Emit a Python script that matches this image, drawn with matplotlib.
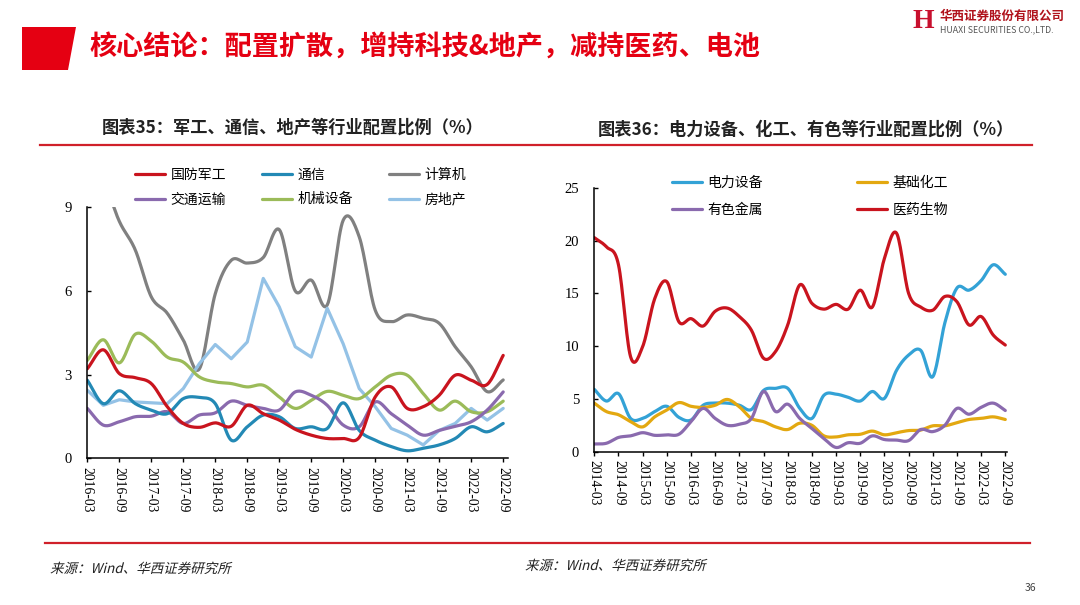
import numpy as np
import matplotlib
matplotlib.use('Agg')
import matplotlib.pyplot as plt
from matplotlib.patches import Polygon, PathPatch
from matplotlib.lines import Line2D
from matplotlib.textpath import TextPath
from matplotlib.font_manager import FontProperties
from matplotlib.transforms import Affine2D

plt.rcParams['font.family'] = ['Noto Sans CJK SC', 'DejaVu Sans']

# ---- data (quarterly) ----
quarters_l = [f'{y}-{m:02d}' for y in range(2016, 2023) for m in (3, 6, 9, 12)][:27]
quarters_r = [f'{y}-{m:02d}' for y in range(2014, 2023) for m in (3, 6, 9, 12)][:35]

military = [3.21, 3.89, 3.04, 2.89, 2.68, 1.85, 1.25, 1.11, 1.27, 1.15, 1.9, 1.6, 1.37, 1.04,
            0.83, 0.71, 0.71, 0.75, 2.2, 2.56, 1.79, 1.85, 2.26, 2.98, 2.8, 2.65, 3.69]
telecom = [2.8, 1.96, 2.42, 1.96, 1.73, 1.6, 2.14, 2.18, 1.96, 0.65, 1.13, 1.55, 1.49, 1.07,
           1.13, 1.07, 1.99, 1.0, 0.65, 0.42, 0.27, 0.36, 0.48, 0.71, 1.13, 0.95, 1.25]
computer = [11.0, 10.0, 8.5, 7.47, 5.79, 5.2, 4.24, 3.2, 5.9, 7.1, 7.0, 7.2, 8.2, 6.0,
            6.39, 5.5, 8.54, 7.94, 5.31, 4.9, 5.14, 5.02, 4.84, 4.0, 3.28, 2.39, 2.81]
transport = [1.79, 1.19, 1.31, 1.49, 1.51, 1.67, 1.25, 1.55, 1.63, 2.05, 1.9, 1.79, 1.73, 2.38,
             2.26, 1.9, 1.19, 1.13, 2.02, 1.6, 1.19, 0.83, 1.0, 1.15, 1.31, 1.73, 2.38]
machinery = [3.51, 4.25, 3.42, 4.45, 4.2, 3.63, 3.45, 2.92, 2.74, 2.68, 2.56, 2.62, 2.2, 1.79,
             2.08, 2.4, 2.26, 2.14, 2.56, 2.98, 2.98, 2.32, 1.73, 2.05, 1.67, 1.67, 2.05]
realestate = [2.44, 1.9, 2.1, 2.02, 1.99, 1.96, 2.5, 3.39, 4.08, 3.57, 4.17, 6.45, 5.43, 4.0,
              3.63, 5.38, 4.1, 2.5, 1.85, 1.07, 0.83, 0.48, 1.0, 1.25, 1.79, 1.37, 1.79]

power = [5.9, 4.8, 5.5, 3.15, 3.15, 3.8, 4.3, 3.25, 3.0, 4.4, 4.6, 4.6, 4.4, 4.0, 5.8, 6.0, 6.0,
         4.1, 3.15, 5.35, 5.45, 5.15, 4.8, 5.7, 5.05, 7.7, 9.15, 9.6, 7.1, 12.2, 15.5, 15.3,
         16.2, 17.7, 16.8]
chemical = [4.6, 3.8, 3.5, 2.85, 2.35, 3.3, 3.95, 4.65, 4.3, 4.2, 4.4, 4.95, 4.25, 3.15, 2.85,
            2.35, 2.1, 2.7, 2.5, 1.5, 1.4, 1.6, 1.65, 1.95, 1.6, 1.8, 2.0, 2.05, 2.45, 2.45,
            2.75, 3.05, 3.15, 3.3, 3.05]
metals = [0.73, 0.8, 1.35, 1.5, 1.8, 1.55, 1.6, 1.65, 2.85, 4.1, 3.15, 2.5, 2.6, 3.15, 5.7,
          3.8, 4.5, 3.15, 2.2, 1.25, 0.4, 0.85, 0.8, 1.5, 1.15, 1.1, 1.05, 2.1, 1.9, 2.5, 4.1,
          3.55, 4.2, 4.6, 3.9]
pharma = [20.27, 19.4, 17.7, 9.0, 9.95, 14.5, 16.1, 12.3, 12.6, 11.9, 13.3, 13.6, 12.8, 11.5,
          8.85, 9.5, 12.0, 15.8, 14.05, 13.5, 13.95, 13.5, 15.3, 13.7, 18.3, 20.7, 15.0, 13.7,
          13.4, 14.7, 14.2, 12.0, 12.8, 11.05, 10.1]

W, H = 1080, 605
RED = '#E50012'
source_text = '来源：Wind、华西证券研究所'


def px_rect(l, t, r, b):
    return [l / W, 1 - b / H, (r - l) / W, (b - t) / H]


def smooth(y, n=16):
    # catmull-rom curve through the points, like Excel's smoothed line
    y = np.asarray(y, float)
    p = np.concatenate([[2 * y[0] - y[1]], y, [2 * y[-1] - y[-2]]])
    xs, ys = [], []
    t = np.linspace(0, 1, n, endpoint=False)
    for i in range(len(y) - 1):
        p0, p1, p2, p3 = p[i:i + 4]
        ys.append(0.5 * (2 * p1 + (-p0 + p2) * t + (2 * p0 - 5 * p1 + 4 * p2 - p3) * t ** 2
                         + (-p0 + 3 * p1 - 3 * p2 + p3) * t ** 3))
        xs.append(i + t)
    xs.append([len(y) - 1])
    ys.append([y[-1]])
    return np.concatenate(xs), np.concatenate(ys)


def style_axis(ax, labels, ymax, yticks):
    ax.set_ylim(0, ymax)
    ax.set_yticks(yticks)
    ax.set_xticks(range(0, len(labels), 2))
    ax.set_xticklabels(labels[::2], rotation=-90, fontsize=9.8, family='Liberation Serif')
    for lab in ax.get_yticklabels():
        lab.set_family('Liberation Serif')
        lab.set_fontsize(10.5)
    ax.tick_params(axis='x', direction='out', length=3, width=1, pad=3)
    ax.tick_params(axis='y', direction='in', length=3, width=1, pad=11)
    for s in ('top', 'right'):
        ax.spines[s].set_visible(False)
    for s in ('left', 'bottom'):
        ax.spines[s].set_linewidth(1.1)
    ax.set_facecolor('none')


def slanted_text(fig, x, y, s, size):
    # italic look for CJK text: skewed text path, x/y = left/baseline in pixels from top
    tp = TextPath((0, 0), s, size=size, prop=FontProperties(family='Noto Sans CJK SC'))
    tr = (Affine2D().skew_deg(14, 0).translate(x, H - y) + Affine2D().scale(1 / W, 1 / H)
          + fig.transFigure)
    fig.add_artist(PathPatch(tp, transform=tr, facecolor='#222222', edgecolor='none'))


fig = plt.figure(figsize=(W / 100, H / 100), dpi=100)

# ---- header ----
fig.patches.append(Polygon([[22 / W, 1 - 27 / H], [76 / W, 1 - 27 / H], [68 / W, 1 - 70 / H],
                            [22 / W, 1 - 70 / H]], closed=True, transform=fig.transFigure,
                           facecolor=RED, edgecolor='none'))
fig.text(90 / W, 1 - 48 / H, '核心结论：配置扩散，增持科技&地产，减持医药、电池', color=RED,
         fontsize=19.5, fontweight='bold', va='center', ha='left')
fig.text(923 / W, 1 - 22 / H, 'H', color='#C8102E', fontsize=20, fontweight='bold',
         family='Liberation Serif', va='center', ha='center')
fig.text(940 / W, 1 - 16 / H, '华西证券股份有限公司', color='#B0121B', fontsize=9,
         fontweight='bold', va='center', ha='left')
fig.text(940 / W, 1 - 30 / H, 'HUAXI SECURITIES CO.,LTD.', color='#555555', fontsize=6.3,
         va='center', ha='left')

# ---- chart titles and rules ----
fig.text(102 / W, 1 - 128 / H, '图表35：军工、通信、地产等行业配置比例（%）', fontsize=12.4,
         fontweight='bold', va='center', ha='left', color='#222222')
fig.text(598 / W, 1 - 130 / H, '图表36：电力设备、化工、有色等行业配置比例（%）', fontsize=12.4,
         fontweight='bold', va='center', ha='left', color='#222222')
fig.lines.append(Line2D([40 / W, 1032 / W], [1 - 145 / H, 1 - 145 / H], transform=fig.transFigure,
                        color='#D0202A', lw=1.6))
fig.lines.append(Line2D([45 / W, 1030 / W], [1 - 543 / H, 1 - 543 / H], transform=fig.transFigure,
                        color='#D0202A', lw=1.6))
slanted_text(fig, 50, 573, source_text, 13.5)
slanted_text(fig, 525, 570, source_text, 13.5)
fig.text(1030 / W, 1 - 588 / H, '36', fontsize=7.5, va='center', ha='center', color='#444444')

# ---- left chart ----
axl = fig.add_axes(px_rect(87.3, 207.3, 508, 458.3))
left_series = [
    ('国防军工', military, '#C9141E', True),
    ('通信', telecom, '#2389B5', True),
    ('计算机', computer, '#808080', True),
    ('交通运输', transport, '#8A6AAE', True),
    ('机械设备', machinery, '#9BBB59', True),
    ('房地产', realestate, '#94C2E6', False),
]
draw_order = ['计算机', '房地产', '机械设备', '交通运输', '通信', '国防军工']
handles = {}
for name, vals, col, sm in left_series:
    if sm:
        xs, ys = smooth(vals)
    else:
        xs, ys = np.arange(len(vals)), np.asarray(vals)
    ln, = axl.plot(xs, ys, color=col, lw=2.3, solid_capstyle='round',
                   zorder=2 + draw_order.index(name) * 0.1)
    handles[name] = ln
axl.set_xlim(0, 26.3)
style_axis(axl, quarters_l, 9, [0, 3, 6, 9])
order_l = ['国防军工', '交通运输', '通信', '机械设备', '计算机', '房地产']
axl.legend([handles[k] for k in order_l], order_l, ncol=3, loc='upper left',
           bbox_to_anchor=(135 / W, 1 - 168 / H), bbox_transform=fig.transFigure,
           frameon=False, fontsize=10, handlelength=2.15, handletextpad=0.4,
           columnspacing=2.6, labelspacing=0.75, borderpad=0, borderaxespad=0)

# ---- right chart ----
axr = fig.add_axes(px_rect(594.3, 187.7, 1006.5, 451.7))
right_series = [
    ('电力设备', power, '#33A2D6'),
    ('基础化工', chemical, '#E3A810'),
    ('有色金属', metals, '#8A6AAE'),
    ('医药生物', pharma, '#C9141E'),
]
handles = {}
for name, vals, col in right_series:
    xs, ys = smooth(vals)
    ln, = axr.plot(xs, ys, color=col, lw=2.3, solid_capstyle='round')
    handles[name] = ln
axr.set_xlim(0, 34.1)
style_axis(axr, quarters_r, 25, [0, 5, 10, 15, 20, 25])
order_r = ['电力设备', '有色金属', '基础化工', '医药生物']
axr.legend([handles[k] for k in order_r], order_r, ncol=2, loc='upper left',
           bbox_to_anchor=(672 / W, 1 - 176 / H), bbox_transform=fig.transFigure,
           frameon=False, fontsize=10, handlelength=2.15, handletextpad=0.4,
           columnspacing=6.8, labelspacing=0.9, borderpad=0, borderaxespad=0)

fig.savefig('out.png', dpi=100)
